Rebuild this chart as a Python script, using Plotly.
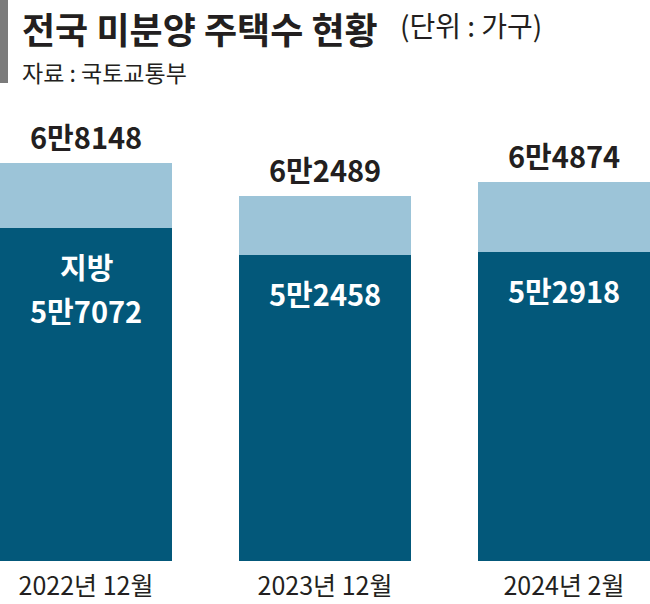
import plotly.graph_objects as go

categories = ["2022년 12월", "2023년 12월", "2024년 2월"]
total_units = [68148, 62489, 64874]
local_units = [57072, 52458, 52918]
metro_units = [t - l for t, l in zip(total_units, local_units)]

DARK = "#03587a"
LIGHT = "#9cc4d8"
INK = "#231f20"
KR_FONT = "Noto Sans CJK KR, sans-serif"

def fmt(v):
    return f"{v // 10000}만{v % 10000}"

W, H = 650, 604
T, B = 95, 43
PH = H - T - B

def py(px):
    # pixel y (from top) -> paper y
    return 1 + (T - px) / PH

xs = list(range(len(categories)))

fig = go.Figure()
fig.add_trace(go.Bar(x=xs, y=local_units, marker=dict(color=DARK, line=dict(width=0)),
                     width=0.72, hoverinfo="skip", name="지방"))
fig.add_trace(go.Bar(x=xs, y=metro_units, marker=dict(color=LIGHT, line=dict(width=0)),
                     width=0.72, hoverinfo="skip", name="수도권"))

annotations = []
for i, (t, l) in enumerate(zip(total_units, local_units)):
    annotations.append(dict(x=i, y=t, xref="x", yref="y", text=f"<b>{fmt(t)}</b>",
                            showarrow=False, yanchor="middle", yshift=27,
                            font=dict(family=KR_FONT, size=29, color=INK)))
    if i == 0:
        annotations.append(dict(x=i, y=l, xref="x", yref="y", text="<b>지방</b>",
                                showarrow=False, yanchor="middle", yshift=-38,
                                font=dict(family=KR_FONT, size=29, color="white")))
        annotations.append(dict(x=i, y=l, xref="x", yref="y", text=f"<b>{fmt(l)}</b>",
                                showarrow=False, yanchor="middle", yshift=-82,
                                font=dict(family=KR_FONT, size=29, color="white")))
    else:
        annotations.append(dict(x=i, y=l, xref="x", yref="y", text=f"<b>{fmt(l)}</b>",
                                showarrow=False, yanchor="middle", yshift=-38,
                                font=dict(family=KR_FONT, size=29, color="white")))

annotations.append(dict(x=20 / W, y=py(0), xref="paper", yref="paper", xanchor="left", yanchor="top",
                        text="<b>전국 미분양 주택수 현황</b>",
                        showarrow=False, font=dict(family=KR_FONT, size=36, color=INK)))
annotations.append(dict(x=398 / W, y=py(0), xref="paper", yref="paper", xanchor="left", yanchor="top",
                        text="(단위 : 가구)", yshift=-3,
                        showarrow=False, font=dict(family=KR_FONT, size=28, color=INK)))
annotations.append(dict(x=20 / W, y=py(53), xref="paper", yref="paper", xanchor="left", yanchor="top",
                        text="자료 : 국토교통부", showarrow=False,
                        font=dict(family=KR_FONT, size=23, color=INK)))

fig.update_layout(
    width=W, height=H,
    margin=dict(l=0, r=0, t=T, b=B),
    barmode="stack",
    showlegend=False,
    plot_bgcolor="white", paper_bgcolor="white",
    annotations=annotations,
    shapes=[dict(type="rect", xref="paper", yref="paper", x0=0, x1=8 / W,
                 y0=py(83), y1=py(0), fillcolor="#7b7b7b", line=dict(width=0), layer="above")],
    xaxis=dict(range=[-0.36, 2.36], tickmode="array", tickvals=xs, ticktext=categories,
               showgrid=False, zeroline=False, showline=False, ticks="",
               ticklabelstandoff=8,
               tickfont=dict(family=KR_FONT, size=25, color=INK)),
    yaxis=dict(range=[0, PH * 171.3], visible=False, showgrid=False, zeroline=False),
)

fig.write_html("out.html")
